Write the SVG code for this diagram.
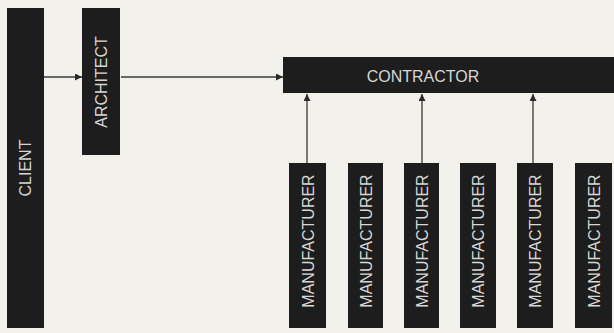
<svg xmlns="http://www.w3.org/2000/svg" width="614" height="333" viewBox="0 0 614 333">
<style>
.box{fill:#1d1d1d}
.lbl{font-family:"Liberation Sans",Arial,sans-serif;font-size:16px;fill:#d6d6d6;text-anchor:middle}
.con{stroke:#3a3a3a;stroke-width:1.3;fill:none;marker-end:url(#ah)}
</style>
<defs>
<marker id="ah" viewBox="0 0 10 10" refX="10" refY="5" markerWidth="7" markerHeight="7" markerUnits="userSpaceOnUse" orient="auto">
<path d="M0,0 L10,5 L0,10 z" fill="#2a2a2a"/>
</marker>
</defs>
<rect width="614" height="333" fill="#f2f1eb"/>
<g id="client"><rect class="box" x="7" y="8" width="37" height="320"/><text class="lbl" transform="translate(31,168) rotate(-90)">CLIENT</text></g>
<g id="architect"><rect class="box" x="82" y="8" width="38" height="147"/><text class="lbl" transform="translate(107,82) rotate(-90)">ARCHITECT</text></g>
<g id="contractor"><rect class="box" x="283" y="57" width="331" height="36"/><text class="lbl" x="423" y="81.5">CONTRACTOR</text></g>
<g id="m1"><rect class="box" x="289" y="163" width="37" height="165"/><text class="lbl" transform="translate(313.5,241) rotate(-90)">MANUFACTURER</text></g>
<g id="m2"><rect class="box" x="348" y="163" width="35" height="165"/><text class="lbl" transform="translate(371.5,241) rotate(-90)">MANUFACTURER</text></g>
<g id="m3"><rect class="box" x="404" y="163" width="35" height="165"/><text class="lbl" transform="translate(427.5,241) rotate(-90)">MANUFACTURER</text></g>
<g id="m4"><rect class="box" x="460" y="163" width="36" height="165"/><text class="lbl" transform="translate(484,241) rotate(-90)">MANUFACTURER</text></g>
<g id="m5"><rect class="box" x="517" y="163" width="36" height="165"/><text class="lbl" transform="translate(541,241) rotate(-90)">MANUFACTURER</text></g>
<g id="m6"><rect class="box" x="575" y="163" width="37" height="165"/><text class="lbl" transform="translate(600,241) rotate(-90)">MANUFACTURER</text></g>
<g id="connectors">
<line class="con" x1="44" y1="77" x2="82" y2="77"/>
<line class="con" x1="121" y1="77" x2="283" y2="77"/>
<line class="con" x1="307" y1="163" x2="307" y2="94"/>
<line class="con" x1="422" y1="163" x2="422" y2="94"/>
<line class="con" x1="533" y1="163" x2="533" y2="94"/>
</g>
</svg>
